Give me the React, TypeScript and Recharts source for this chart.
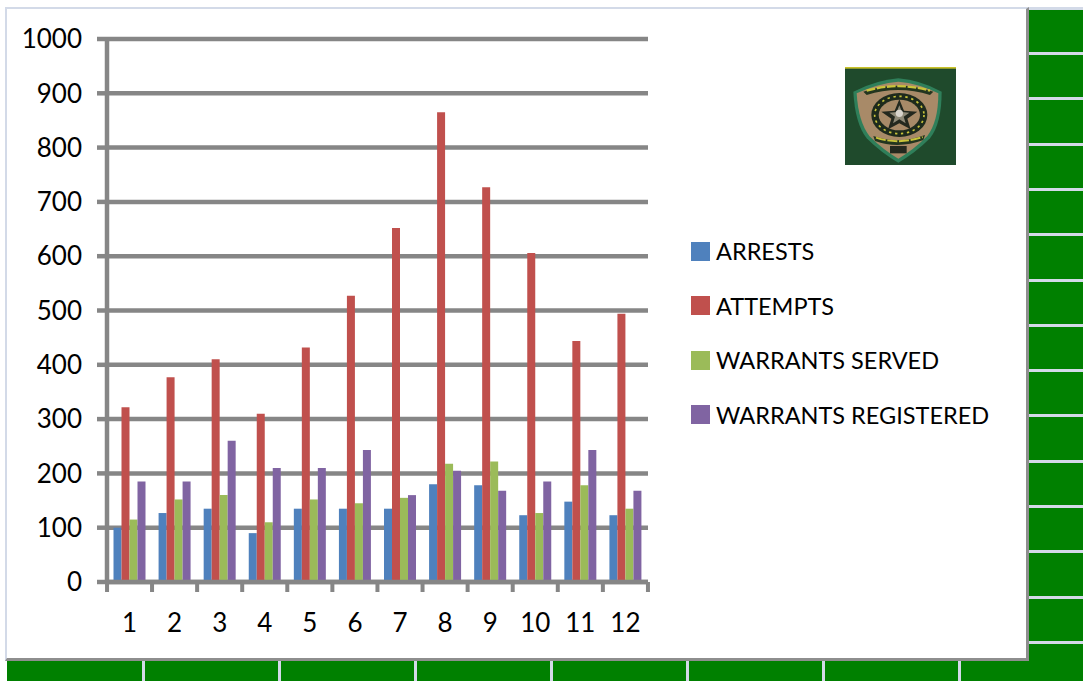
import { BarChart, Bar, XAxis, YAxis, CartesianGrid, Legend } from 'recharts';

const months = ['1', '2', '3', '4', '5', '6', '7', '8', '9', '10', '11', '12'];
const arrests = [100, 127, 135, 90, 135, 135, 135, 180, 178, 123, 148, 123];
const attempts = [322, 377, 410, 310, 432, 527, 652, 865, 727, 606, 444, 494];
const warrantsServed = [115, 152, 160, 110, 152, 145, 155, 218, 222, 127, 178, 135];
const warrantsRegistered = [185, 185, 260, 210, 210, 243, 160, 205, 168, 185, 243, 168];
const yTicks = [0, 100, 200, 300, 400, 500, 600, 700, 800, 900, 1000];

const seriesNames = ['ARRESTS', 'ATTEMPTS', 'WARRANTS SERVED', 'WARRANTS REGISTERED'];
const seriesColors = ['#4F81BD', '#C0504D', '#9BBB59', '#8064A2'];

// backdrop cell dividers
const rightLines = [52, 97, 143, 188, 233, 279, 324, 369, 414, 460, 505, 550, 596, 641];
const bottomLines = [142, 278, 414, 550, 686, 822, 958];

const data = months.map((m, i) => ({
  month: m,
  arrests: arrests[i],
  attempts: attempts[i],
  served: warrantsServed[i],
  registered: warrantsRegistered[i],
}));

const FONT = 'Lato, sans-serif';
const AXIS_GREY = '#868686';

function MonthTick(props: any) {
  const { x, y, payload, index } = props;
  const half = 22.5;
  return (
    <g>
      {index === 0 && <line x1={x - half} x2={x - half} y1={y - 8} y2={y + 2} stroke={AXIS_GREY} strokeWidth={4} />}
      <line x1={x + half} x2={x + half} y1={y - 8} y2={y + 2} stroke={AXIS_GREY} strokeWidth={4} />
      <text x={x} y={y + 42} textAnchor="middle" fontSize={26} fontFamily={FONT} fill="#000">
        {payload.value}
      </text>
    </g>
  );
}

function SideLegend() {
  return (
    <div style={{ fontFamily: FONT, fontSize: 23.5, color: '#000' }}>
      {seriesNames.map((name, i) => (
        <div key={name} style={{ display: 'flex', alignItems: 'center', height: 54.5, whiteSpace: 'nowrap' }}>
          <span style={{ width: 19, height: 19, background: seriesColors[i], marginRight: 6 }} />
          {name}
        </div>
      ))}
    </div>
  );
}

function Badge() {
  return (
    <svg width={125} height={110} viewBox="0 0 375 330" style={{ position: 'absolute', left: 840, top: 60 }}>
      <rect x={15} y={23} width={333} height={292} fill="#1F4A2C" />
      <rect x={15} y={21} width={333} height={5} fill="#C9C22A" />
      <path d="M40 95 Q110 60 175 55 Q240 60 305 95 Q305 190 270 235 Q225 280 175 308 Q125 280 80 235 Q45 190 40 95Z" fill="#2F7F5A" />
      <path d="M50 100 Q115 70 175 65 Q235 70 295 100 Q295 185 262 228 Q220 270 175 296 Q130 270 88 228 Q55 185 50 100Z" fill="#A88A68" />
      <path d="M70 95 Q175 60 280 95 L270 105 Q175 75 80 105Z" fill="#23351F" />
      <path d="M80 92 Q175 65 270 92" fill="none" stroke="#C9C43A" strokeWidth={7} strokeDasharray="26 5" />
      <ellipse cx={178} cy={165} rx={84} ry={66} fill="#1E2A1C" />
      <ellipse cx={178} cy={165} rx={74} ry={56} fill="none" stroke="#C9C43A" strokeWidth={5} strokeDasharray="7 11" />
      <ellipse cx={178} cy={165} rx={62} ry={46} fill="#A88A68" />
      <path d="M178 118 L192 152 L232 155 L202 176 L212 208 L178 190 L144 208 L154 176 L124 155 L164 152Z" fill="#23281E" />
      <path d="M178 136 L186 156 L208 158 L191 170 L197 190 L178 178 L159 190 L165 170 L148 158 L170 156Z" fill="#8F8A78" />
      <circle cx={178} cy={160} r={11} fill="#D8D4CC" />
      <path d="M100 228 Q175 255 255 225 L250 240 Q175 268 105 243Z" fill="#23351F" />
      <path d="M108 233 Q175 255 248 231" fill="none" stroke="#C9C43A" strokeWidth={6} strokeDasharray="30 5" />
      <rect x={150} y={258} width={50} height={22} fill="#23281E" />
    </svg>
  );
}

export default function App() {
  return (
    <div style={{ position: 'absolute', left: 0, top: 0, width: 1083, height: 681, background: '#fff', overflow: 'hidden' }}>
      {/* green cells around the sheet */}
      <div style={{ position: 'absolute', left: 1027, top: 7, width: 56, height: 3, background: '#D3DAE8' }} />
      <div style={{ position: 'absolute', left: 1027, top: 10, width: 56, height: 671, background: '#008000' }} />
      <div style={{ position: 'absolute', left: 7, top: 658, width: 1076, height: 23, background: '#008000' }} />
      {rightLines.map((y) => (
        <div key={y} style={{ position: 'absolute', left: 1028, top: y, width: 55, height: 3, background: '#D3DAE8' }} />
      ))}
      {bottomLines.map((x) => (
        <div key={x} style={{ position: 'absolute', left: x, top: 660, width: 3, height: 21, background: '#D3DAE8' }} />
      ))}
      {/* white sheet */}
      <div
        style={{
          position: 'absolute',
          left: 5,
          top: 7,
          width: 1019,
          height: 649,
          background: '#fff',
          borderLeft: '2px solid #D3DAE8',
          borderTop: '2px solid #D3DAE8',
          borderRight: '3px solid #8E8E8E',
          borderBottom: '3px solid #8E8E8E',
        }}
      />
      <Badge />
      <div style={{ position: 'absolute', left: 0, top: 0 }}>
        <BarChart
          width={1083}
          height={681}
          data={data}
          margin={{ top: 39, right: 435, bottom: 0, left: 0 }}
          barCategoryGap={6.5}
          barGap={0}
        >
          <CartesianGrid vertical={false} stroke={AXIS_GREY} strokeWidth={4.5} />
          <XAxis
            dataKey="month"
            height={99}
            axisLine={{ stroke: AXIS_GREY, strokeWidth: 4.5 }}
            tickLine={false}
            tick={<MonthTick />}
            interval={0}
          />
          <YAxis
            width={107}
            domain={[0, 1000]}
            ticks={yTicks}
            interval={0}
            axisLine={{ stroke: AXIS_GREY, strokeWidth: 4.5 }}
            tickLine={{ stroke: AXIS_GREY, strokeWidth: 4.5 }}
            tickSize={10}
            tickMargin={15}
            tick={{ fontSize: 26, fontFamily: FONT, fill: '#000' }}
          />
          <Legend
            layout="vertical"
            align="center"
            verticalAlign="middle"
            content={<SideLegend />}
            wrapperStyle={{ left: 691, top: 224, width: 320 }}
          />
          <Bar dataKey="arrests" name={seriesNames[0]} fill={seriesColors[0]} isAnimationActive={false} />
          <Bar dataKey="attempts" name={seriesNames[1]} fill={seriesColors[1]} isAnimationActive={false} />
          <Bar dataKey="served" name={seriesNames[2]} fill={seriesColors[2]} isAnimationActive={false} />
          <Bar dataKey="registered" name={seriesNames[3]} fill={seriesColors[3]} isAnimationActive={false} />
        </BarChart>
      </div>
    </div>
  );
}
